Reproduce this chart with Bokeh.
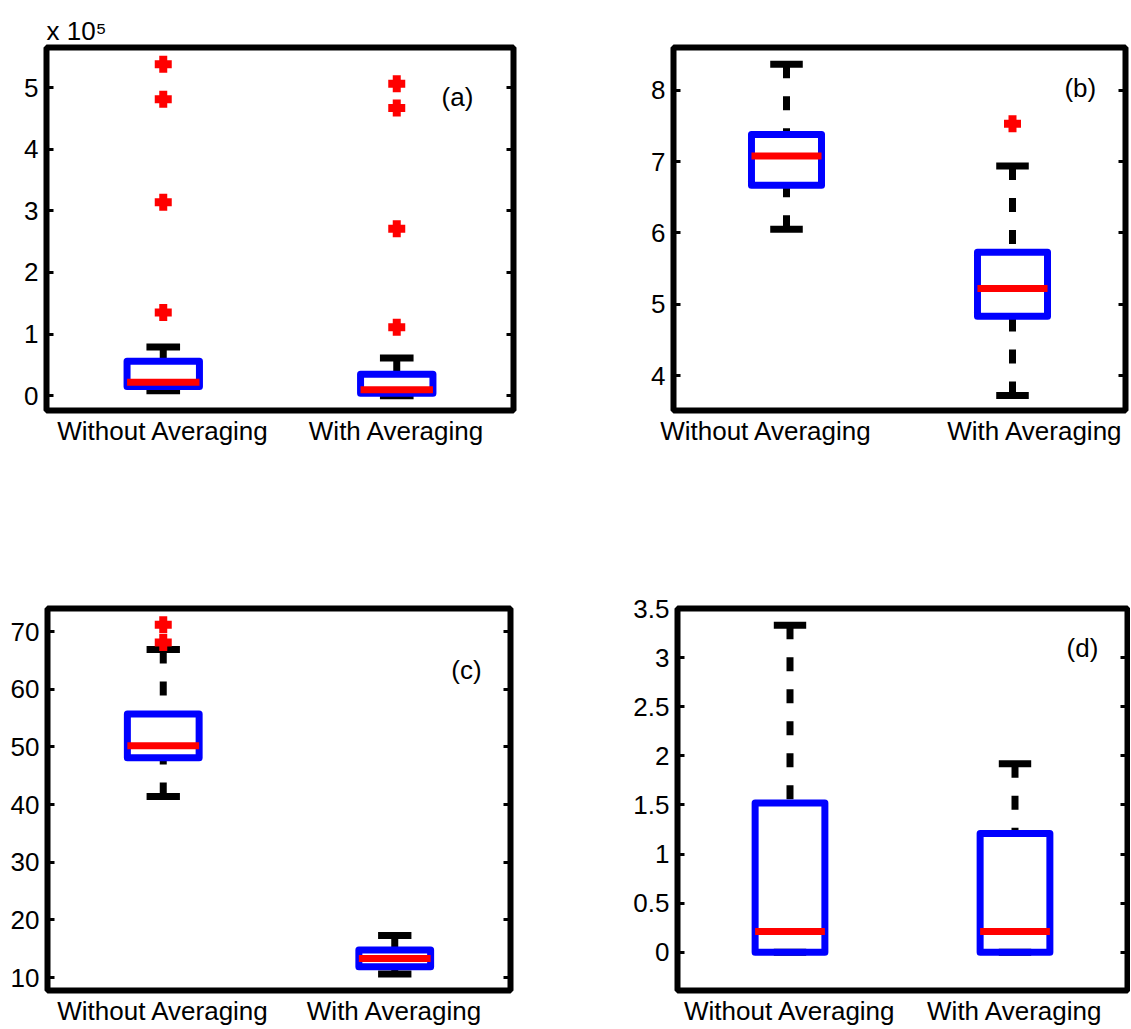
from bokeh.plotting import figure
from bokeh.models import Range1d, LinearAxis, FixedTicker, NumeralTickFormatter
from bokeh.layouts import column, row
from bokeh.embed import file_html
from bokeh.resources import INLINE
from bokeh.core.properties import value

categories = ["Without Averaging", "With Averaging"]
positions = [1, 2]

# ---- panel (a): values in units of 1e5 ----
a_q1 = [0.15, 0.04]
a_med = [0.22, 0.095]
a_q3 = [0.56, 0.35]
a_lo = [0.08, 0.0]
a_hi = [0.79, 0.61]
a_out_grp = [1, 1, 1, 1, 2, 2, 2, 2]
a_out_val = [5.38, 4.81, 3.14, 1.35, 5.06, 4.67, 2.71, 1.11]
a_yticks = [0, 1, 2, 3, 4, 5]

# ---- panel (b) ----
b_q1 = [6.67, 4.83]
b_med = [7.08, 5.22]
b_q3 = [7.38, 5.73]
b_lo = [6.05, 3.72]
b_hi = [8.365, 6.94]
b_out_grp = [2]
b_out_val = [7.53]
b_yticks = [4, 5, 6, 7, 8]
b_label_pos = [0.91, 2.10]

# ---- panel (c) ----
c_q1 = [48.1, 11.9]
c_med = [50.2, 13.3]
c_q3 = [55.7, 14.8]
c_lo = [41.4, 10.6]
c_hi = [66.9, 17.3]
c_out_grp = [1, 1]
c_out_val = [71.2, 68.1]
c_yticks = [10, 20, 30, 40, 50, 60, 70]

# ---- panel (d) ----
d_q1 = [0.0, 0.0]
d_med = [0.21, 0.21]
d_q3 = [1.52, 1.21]
d_lo = [0.0, 0.0]
d_hi = [3.33, 1.92]
d_out_grp = []
d_out_val = []
d_yticks = [0, 0.5, 1, 1.5, 2, 2.5, 3, 3.5]

FONT = "Liberation Sans"
FS = "26px"
BOX_HW = 0.155
CAP_HW = 0.072
LW = 7


def make_panel(q1, med, q3, lo, hi, out_grp, out_val, y0, y1, yticks,
               letter, lx, ly, label_pos, w, h, bl, br, bt, bb):
    p = figure(width=w, height=h, x_range=Range1d(0.5, 2.5), y_range=Range1d(y0, y1),
               x_axis_type=None, y_axis_type=None, toolbar_location=None,
               output_backend="svg", min_border_left=bl, min_border_right=br,
               min_border_top=bt, min_border_bottom=bb)
    p.outline_line_color = "black"
    p.outline_line_width = 6
    p.outline_line_alpha = 1.0
    p.background_fill_color = "white"
    p.border_fill_color = "white"

    # left axis
    ly_ax = LinearAxis(ticker=FixedTicker(ticks=yticks),
                       formatter=NumeralTickFormatter(format="0.[0]"))
    ly_ax.axis_line_color = None
    ly_ax.major_tick_in = 7
    ly_ax.major_tick_out = 0
    ly_ax.major_tick_line_width = 3
    ly_ax.minor_tick_line_color = None
    ly_ax.major_label_standoff = 8
    ly_ax.major_label_text_font = FONT
    ly_ax.major_label_text_font_size = FS
    ly_ax.major_label_text_color = "black"
    p.add_layout(ly_ax, "left")

    # right axis (tick marks only)
    ry_ax = LinearAxis(ticker=FixedTicker(ticks=yticks))
    ry_ax.axis_line_color = None
    ry_ax.major_tick_in = 7
    ry_ax.major_tick_out = 0
    ry_ax.major_tick_line_width = 3
    ry_ax.minor_tick_line_color = None
    ry_ax.major_label_standoff = 0
    ry_ax.major_label_text_font_size = "1px"
    ry_ax.major_label_text_color = None
    p.add_layout(ry_ax, "right")

    # bottom axis with category labels
    bx = LinearAxis(ticker=FixedTicker(ticks=label_pos),
                    major_label_overrides={pos: name for pos, name in zip(label_pos, categories)})
    bx.axis_line_color = None
    bx.major_tick_in = 0
    bx.major_tick_out = 0
    bx.major_tick_line_color = None
    bx.minor_tick_line_color = None
    bx.major_label_standoff = 5
    bx.major_label_text_font = FONT
    bx.major_label_text_font_size = FS
    bx.major_label_text_color = "black"
    p.add_layout(bx, "below")

    xl = [x - BOX_HW for x in positions]
    xr = [x + BOX_HW for x in positions]
    cl = [x - CAP_HW for x in positions]
    cr = [x + CAP_HW for x in positions]

    # whiskers
    p.segment(x0=positions, y0=hi, x1=positions, y1=q3, line_color="black",
              line_width=LW, line_dash="14 18", line_cap="butt")
    p.segment(x0=positions, y0=lo, x1=positions, y1=q1, line_color="black",
              line_width=LW, line_dash="14 18", line_cap="butt")
    # caps
    p.segment(x0=cl, y0=hi, x1=cr, y1=hi, line_color="black", line_width=LW)
    p.segment(x0=cl, y0=lo, x1=cr, y1=lo, line_color="black", line_width=LW)
    # boxes
    p.quad(left=xl, right=xr, bottom=q1, top=q3, fill_color=None,
           line_color="#0000ff", line_width=LW, line_join="round")
    # medians
    p.segment(x0=xl, y0=med, x1=xr, y1=med, line_color="#ff0000", line_width=LW)
    # outliers
    if out_val:
        p.scatter(x=out_grp, y=out_val, marker="cross", size=17,
                  line_color="#ff0000", line_width=8)
    # panel letter
    p.text(x=[lx], y=[ly], text=[letter], text_font=value(FONT),
           text_font_size=FS, text_align="center", text_baseline="middle",
           text_color="black")
    return p


pa = make_panel(a_q1, a_med, a_q3, a_lo, a_hi, a_out_grp, a_out_val, -0.24, 5.65, a_yticks,
                "(a)", 2.26, 4.85, positions, 620, 560, 46, 107, 47, 142)
pb = make_panel(b_q1, b_med, b_q3, b_lo, b_hi, b_out_grp, b_out_val, 3.51, 8.60, b_yticks,
                "(b)", 2.30, 8.03, b_label_pos, 510, 560, 53, 5, 47, 150)
pc = make_panel(c_q1, c_med, c_q3, c_lo, c_hi, c_out_grp, c_out_val, 7.76, 74.0, c_yticks,
                "(c)", 2.31, 63.3, positions, 620, 468, 47, 110, 48, 36)
pd = make_panel(d_q1, d_med, d_q3, d_lo, d_hi, d_out_grp, d_out_val, -0.39, 3.5, d_yticks,
                "(d)", 2.30, 3.1, positions, 510, 468, 57, 3, 45, 36)

# exponent note above panel (a)
pa.title.text = "x 10\u2075"
pa.title.align = "left"
pa.title.offset = 0
pa.title.standoff = 4
pa.title.text_font = FONT
pa.title.text_font_size = FS
pa.title.text_font_style = "normal"
pa.title.text_color = "black"

layout = column(row(pa, pb), row(pc, pd))

open("out.html", "w").write(file_html(layout, INLINE))
